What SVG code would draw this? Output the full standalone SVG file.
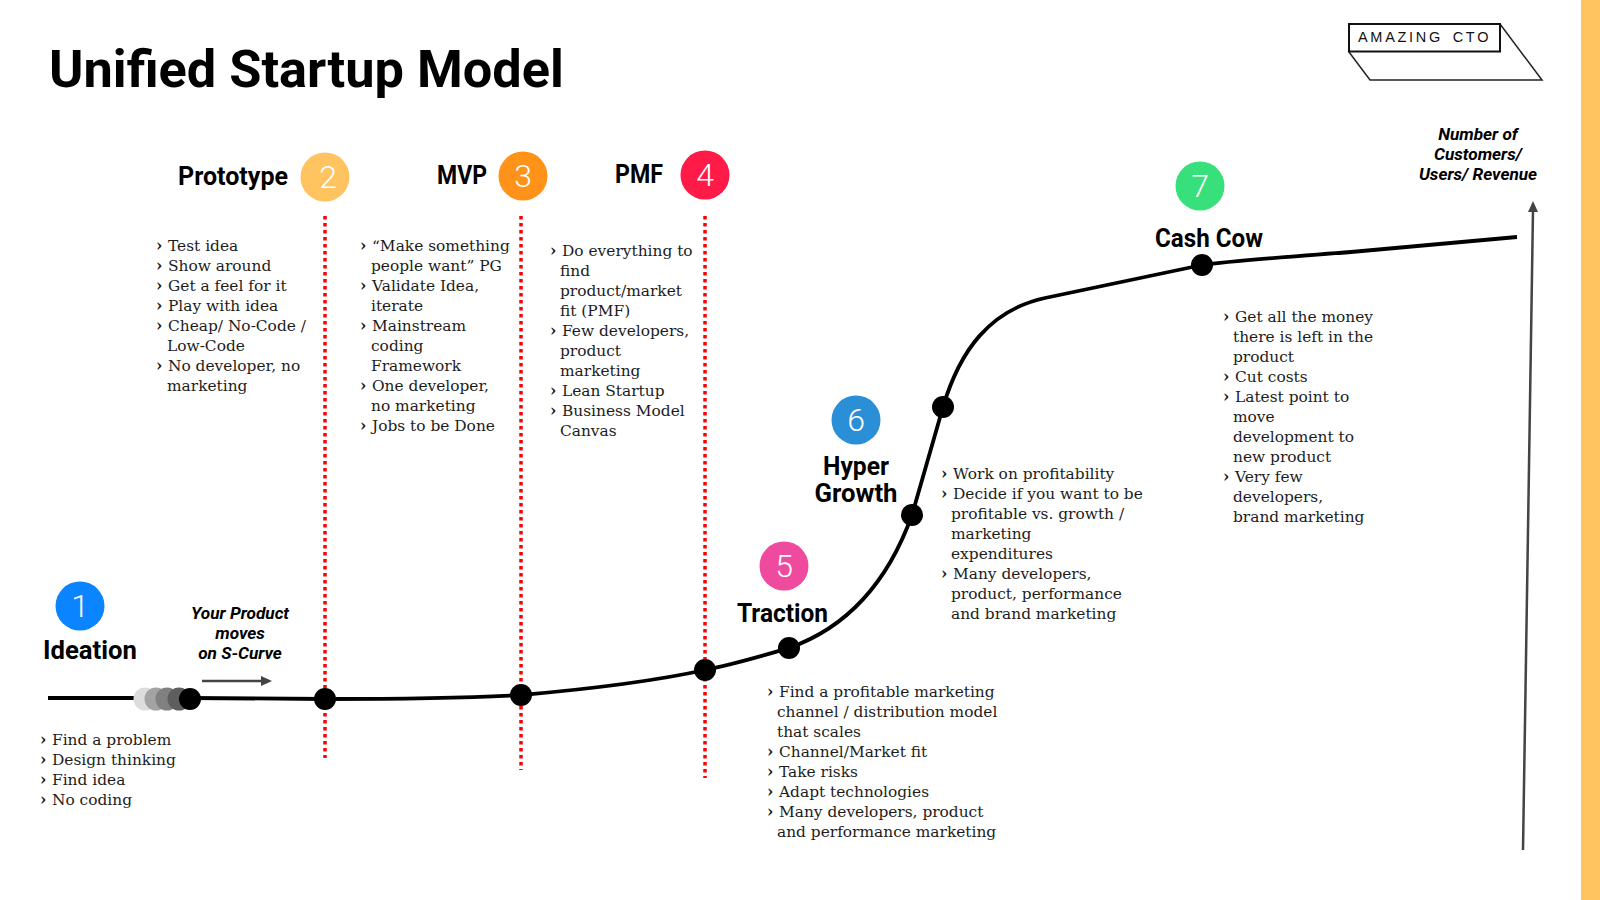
<svg xmlns="http://www.w3.org/2000/svg" width="1600" height="900" viewBox="0 0 1600 900">
<style>
.b{font-family:"DejaVu Serif","Liberation Serif",serif;font-size:15.400px;fill:#1c1c1c}
.c{font-family:"DejaVu Serif","Liberation Serif",serif;font-size:16px;font-weight:700;fill:#1c1c1c}
.h{font-family:"Roboto","Liberation Sans",sans-serif;font-weight:700;font-size:25px;fill:#000}
.i{font-family:"Roboto","Liberation Sans",sans-serif;font-weight:700;font-style:italic;font-size:17.200px;fill:#000;text-anchor:middle}
.n{font-family:"Roboto","Liberation Sans",sans-serif;font-weight:300;font-size:32px;fill:#fff;text-anchor:middle}
.d{fill:none;stroke:#f00;stroke-width:3.500;stroke-dasharray:3.500 3.500}
.dot{fill:#000}
</style>
<rect width="1600" height="900" fill="#fff"/>
<rect x="1581" y="0" width="19" height="900" fill="#ffc35f"/>
<text x="49" y="87" font-family="Roboto,'Liberation Sans',sans-serif" font-weight="700" font-size="52.300" fill="#000">Unified Startup Model</text>
<g id="logo">
<path d="M1349 52L1370 80H1542L1500 24" fill="none" stroke="#222" stroke-width="1.500"/>
<rect x="1349" y="24" width="151" height="27.500" fill="#fff" stroke="#111" stroke-width="2"/>
<text x="1358" y="42" font-family="'Liberation Sans',sans-serif" font-size="14.500" letter-spacing="2.700" word-spacing="3" fill="#111">AMAZING CTO</text>
</g>
<g id="connectors">
<path class="d" d="M325 216V758"/><path class="d" d="M521 216V770"/><path class="d" d="M705 216V778"/>
<path d="M48 698H190L325 699C400 699 470 698 521 695C590 689 650 682 705 670C735 664 765 655 789 648C840 630 885 590 912 515L943 407C960 350 990 310 1045 298L1202 265C1230 261 1260 259 1351 252L1517 237" fill="none" stroke="#000" stroke-width="3.800"/>
<path d="M202 681H262" stroke="#444" stroke-width="2.500"/><path d="M261 676L272 681L261 686Z" fill="#444"/>
<path d="M1523 850L1533 210" stroke="#444" stroke-width="2.500"/><path d="M1528 212L1533 201L1538 212Z" fill="#444"/>
</g>
<g id="product-dots">
<circle cx="145" cy="699" r="11.500" fill="#ddd"/><circle cx="156" cy="699" r="11.500" fill="#a3a3a3"/><circle cx="167" cy="699" r="11.500" fill="#808080"/><circle cx="179" cy="699" r="11.500" fill="#5e5e5e"/><circle class="dot" cx="190" cy="699" r="11"/>
</g>
<g id="waypoints">
<circle class="dot" cx="325" cy="699" r="11"/><circle class="dot" cx="521" cy="695" r="11"/><circle class="dot" cx="705" cy="670" r="11"/><circle class="dot" cx="789" cy="648" r="11"/><circle class="dot" cx="912" cy="515" r="11"/><circle class="dot" cx="943" cy="407" r="11"/><circle class="dot" cx="1202" cy="265" r="11"/>
</g>
<g id="node1"><circle cx="80" cy="606" r="24.500" fill="#0a84ff"/><text class="n" x="80" y="617">1</text><text class="h" x="43" y="659" textLength="94" lengthAdjust="spacingAndGlyphs">Ideation</text>
<g transform="translate(0,-0.5)"><text class="c" x="40" y="745">›</text><text class="b" x="52" y="745">Find a problem</text><text class="c" x="40" y="765">›</text><text class="b" x="52" y="765">Design thinking</text><text class="c" x="40" y="785">›</text><text class="b" x="52" y="785">Find idea</text><text class="c" x="40" y="805">›</text><text class="b" x="52" y="805">No coding</text></g></g>
<g id="note"><text class="i" x="240" y="619">Your Product</text><text class="i" x="240" y="639">moves</text><text class="i" x="240" y="659">on S-Curve</text></g>
<g id="node2"><circle cx="325" cy="177" r="24.500" fill="#ffc35f"/><text class="n" x="328" y="188">2</text><text class="h" x="178" y="185" textLength="110" lengthAdjust="spacingAndGlyphs">Prototype</text>
<g transform="translate(0,-0.5)"><text class="c" x="156" y="251">›</text><text class="b" x="168" y="251">Test idea</text>
<text class="c" x="156" y="271">›</text><text class="b" x="168" y="271">Show around</text>
<text class="c" x="156" y="291">›</text><text class="b" x="168" y="291">Get a feel for it</text>
<text class="c" x="156" y="311">›</text><text class="b" x="168" y="311">Play with idea</text>
<text class="c" x="156" y="331">›</text><text class="b" x="168" y="331">Cheap/ No-Code /</text>
<text class="b" x="167" y="351">Low-Code</text>
<text class="c" x="156" y="371">›</text><text class="b" x="168" y="371">No developer, no</text>
<text class="b" x="167" y="391">marketing</text></g></g>
<g id="node3"><circle cx="523" cy="176" r="24.500" fill="#ff9218"/><text class="n" x="523" y="187">3</text><text class="h" x="437" y="184" textLength="50" lengthAdjust="spacingAndGlyphs">MVP</text>
<g transform="translate(0,-0.5)"><text class="c" x="360" y="251">›</text><text class="b" x="372" y="251">“Make something</text>
<text class="b" x="371" y="271">people want” PG</text>
<text class="c" x="360" y="291">›</text><text class="b" x="372" y="291">Validate Idea,</text>
<text class="b" x="371" y="311">iterate</text>
<text class="c" x="360" y="331">›</text><text class="b" x="372" y="331">Mainstream</text>
<text class="b" x="371" y="351">coding</text>
<text class="b" x="371" y="371">Framework</text>
<text class="c" x="360" y="391">›</text><text class="b" x="372" y="391">One developer,</text>
<text class="b" x="371" y="411">no marketing</text>
<text class="c" x="360" y="431">›</text><text class="b" x="372" y="431">Jobs to be Done</text></g></g>
<g id="node4"><circle cx="705" cy="175" r="24.500" fill="#ff1a47"/><text class="n" x="705" y="186">4</text><text class="h" x="615" y="183" textLength="48" lengthAdjust="spacingAndGlyphs">PMF</text>
<g transform="translate(0,-0.5)"><text class="c" x="550" y="256">›</text><text class="b" x="562" y="256">Do everything to</text>
<text class="b" x="560" y="276">find</text>
<text class="b" x="560" y="296">product/market</text>
<text class="b" x="560" y="316">fit (PMF)</text>
<text class="c" x="550" y="336">›</text><text class="b" x="562" y="336">Few developers,</text>
<text class="b" x="560" y="356">product</text>
<text class="b" x="560" y="376">marketing</text>
<text class="c" x="550" y="396">›</text><text class="b" x="562" y="396">Lean Startup</text>
<text class="c" x="550" y="416">›</text><text class="b" x="562" y="416">Business Model</text>
<text class="b" x="560" y="436">Canvas</text></g></g>
<g id="node5"><circle cx="784" cy="566" r="24.500" fill="#ee4b9e"/><text class="n" x="784" y="577">5</text><text class="h" x="737" y="622" textLength="91" lengthAdjust="spacingAndGlyphs">Traction</text>
<g transform="translate(0,-0.5)"><text class="c" x="767" y="697">›</text><text class="b" x="779" y="697">Find a profitable marketing</text>
<text class="b" x="777" y="717">channel / distribution model</text>
<text class="b" x="777" y="737">that scales</text>
<text class="c" x="767" y="757">›</text><text class="b" x="779" y="757">Channel/Market fit</text>
<text class="c" x="767" y="777">›</text><text class="b" x="779" y="777">Take risks</text>
<text class="c" x="767" y="797">›</text><text class="b" x="779" y="797">Adapt technologies</text>
<text class="c" x="767" y="817">›</text><text class="b" x="779" y="817">Many developers, product</text>
<text class="b" x="777" y="837">and performance marketing</text></g></g>
<g id="node6"><circle cx="856" cy="420" r="24.500" fill="#2a8fd6"/><text class="n" x="856" y="431">6</text><text class="h" x="856" y="475" text-anchor="middle" textLength="66" lengthAdjust="spacingAndGlyphs">Hyper</text><text class="h" x="856" y="502" text-anchor="middle" textLength="83" lengthAdjust="spacingAndGlyphs">Growth</text>
<g transform="translate(0,-0.5)"><text class="c" x="941" y="479">›</text><text class="b" x="953" y="479">Work on profitability</text>
<text class="c" x="941" y="499">›</text><text class="b" x="953" y="499">Decide if you want to be</text>
<text class="b" x="951" y="519">profitable vs. growth /</text>
<text class="b" x="951" y="539">marketing</text>
<text class="b" x="951" y="559">expenditures</text>
<text class="c" x="941" y="579">›</text><text class="b" x="953" y="579">Many developers,</text>
<text class="b" x="951" y="599">product, performance</text>
<text class="b" x="951" y="619">and brand marketing</text></g></g>
<g id="node7"><circle cx="1200" cy="186" r="24.500" fill="#38e07b"/><text class="n" x="1200" y="197">7</text><text class="h" x="1155" y="247" textLength="108" lengthAdjust="spacingAndGlyphs">Cash Cow</text>
<g transform="translate(0,-0.5)"><text class="c" x="1223" y="322">›</text><text class="b" x="1235" y="322">Get all the money</text>
<text class="b" x="1233" y="342">there is left in the</text>
<text class="b" x="1233" y="362">product</text>
<text class="c" x="1223" y="382">›</text><text class="b" x="1235" y="382">Cut costs</text>
<text class="c" x="1223" y="402">›</text><text class="b" x="1235" y="402">Latest point to</text>
<text class="b" x="1233" y="422">move</text>
<text class="b" x="1233" y="442">development to</text>
<text class="b" x="1233" y="462">new product</text>
<text class="c" x="1223" y="482">›</text><text class="b" x="1235" y="482">Very few</text>
<text class="b" x="1233" y="502">developers,</text>
<text class="b" x="1233" y="522">brand marketing</text></g></g>
<g id="axis-label"><text class="i" x="1478" y="140">Number of</text><text class="i" x="1478" y="160">Customers/</text><text class="i" x="1478" y="180">Users/ Revenue</text></g>
</svg>
